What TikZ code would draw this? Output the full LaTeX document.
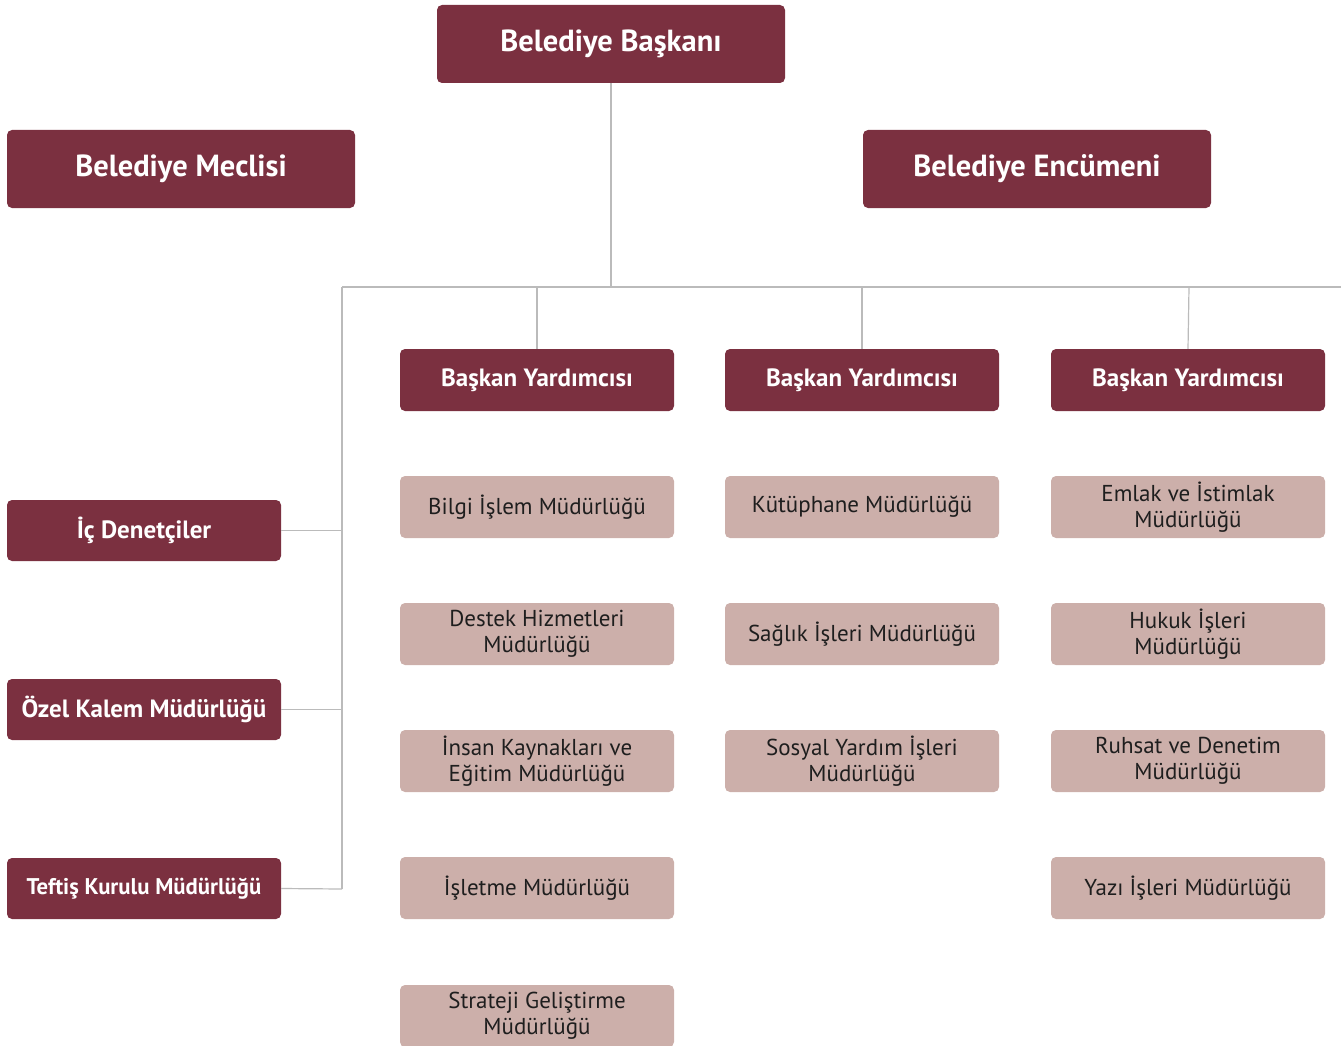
\documentclass[tikz,border=0pt]{standalone}
\usepackage{fontspec}
\setmainfont{PT Sans}
\definecolor{darkbox}{HTML}{7B3040}
\definecolor{lightbox}{HTML}{CCAFAA}
\definecolor{linegray}{HTML}{BBBBBB}
\definecolor{txtdark}{HTML}{1E1E1E}
\begin{document}
\begin{tikzpicture}[x=1pt,y=-1pt,
  dbox/.style={fill=darkbox,text=white,rounded corners=5pt,inner sep=0pt,align=center,font=\bfseries\fontsize{25}{28}\selectfont},
  lbox/.style={fill=lightbox,text=txtdark,rounded corners=5pt,inner sep=0pt,align=center,font=\fontsize{23}{26}\selectfont,minimum width=274pt,minimum height=62pt},
  big/.style={dbox,minimum width=348pt,minimum height=78pt,font=\bfseries\fontsize{30.5}{34}\selectfont},
  vp/.style={dbox,minimum width=274pt,minimum height=62pt},
  side/.style={dbox,minimum width=274pt,minimum height=61pt},
  conn/.style={draw=linegray,line width=1.2pt}]
\useasboundingbox (0,0) rectangle (1341,1046);
% top boxes
\node[big] (bb) at (611,44) {Belediye Başkanı};
\node[big] (bm) at (181,169) {Belediye Meclisi};
\node[big] (be) at (1037,169) {Belediye Encümeni};
% junctions
\coordinate (j0) at (611,287);
\coordinate (jl) at (342,287);
\coordinate (jr) at (1341,287);
\coordinate (jb) at (342,889);
\coordinate (j1) at (537,287);
\coordinate (j2) at (862,287);
\coordinate (j3) at (1189,287);
% vice mayors
\node[vp] (v1) at (537,380) {Başkan Yardımcısı};
\node[vp] (v2) at (862,380) {Başkan Yardımcısı};
\node[vp] (v3) at (1188,380) {Başkan Yardımcısı};
% side boxes
\node[side] (s1) at (144,530.5) {İç Denetçiler};
\node[side] (s2) at (144,709.5) {Özel Kalem Müdürlüğü};
\node[side,font=\bfseries\fontsize{22.7}{26}\selectfont] (s3) at (144,888.5) {Teftiş Kurulu Müdürlüğü};
% column 1
\node[lbox] (a1) at (537,507) {Bilgi İşlem Müdürlüğü};
\node[lbox] (a2) at (537,634) {Destek Hizmetleri\\Müdürlüğü};
\node[lbox] (a3) at (537,761) {İnsan Kaynakları ve\\Eğitim Müdürlüğü};
\node[lbox] (a4) at (537,888) {İşletme Müdürlüğü};
\node[lbox] (a5) at (537,1016) {Strateji Geliştirme\\Müdürlüğü};
% column 2
\node[lbox] (b1) at (862,507) {Kütüphane Müdürlüğü};
\node[lbox] (b2) at (862,634) {Sağlık İşleri Müdürlüğü};
\node[lbox] (b3) at (862,761) {Sosyal Yardım İşleri\\Müdürlüğü};
% column 3
\node[lbox] (c1) at (1188,507) {Emlak ve İstimlak\\Müdürlüğü};
\node[lbox] (c2) at (1188,634) {Hukuk İşleri\\Müdürlüğü};
\node[lbox] (c3) at (1188,761) {Ruhsat ve Denetim\\Müdürlüğü};
\node[lbox] (c4) at (1188,888) {Yazı İşleri Müdürlüğü};
% connectors
\draw[conn] (bb.south) -- (j0);
\draw[conn] (jl) -- (jr);
\draw[conn] (jl) -- (jb);
\draw[conn] (j1) -- (v1.north);
\draw[conn] (j2) -- (v2.north);
\draw[conn] (j3) -- (v3.north);
\draw[conn] (s1.east) -- (s1.east -| jl);
\draw[conn] (s2.east) -- (s2.east -| jl);
\draw[conn] (s3.east) -- (jb);
\end{tikzpicture}
\end{document}
